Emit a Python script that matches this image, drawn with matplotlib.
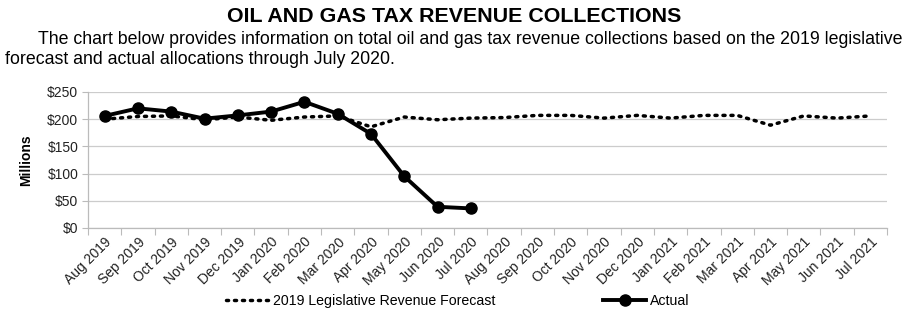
import matplotlib
matplotlib.use("Agg")
import matplotlib.pyplot as plt
import matplotlib.transforms as mtransforms

FONT = "Liberation Sans"
plt.rcParams['font.family'] = [FONT, 'DejaVu Sans']

months = ["Aug 2019", "Sep 2019", "Oct 2019", "Nov 2019", "Dec 2019", "Jan 2020",
          "Feb 2020", "Mar 2020", "Apr 2020", "May 2020", "Jun 2020", "Jul 2020",
          "Aug 2020", "Sep 2020", "Oct 2020", "Nov 2020", "Dec 2020", "Jan 2021",
          "Feb 2021", "Mar 2021", "Apr 2021", "May 2021", "Jun 2021", "Jul 2021"]
forecast = [200, 205, 206, 199, 204, 198, 204, 206, 186, 204, 199, 202,
            203, 207, 207, 202, 207, 202, 207, 207, 189, 206, 202, 206]
actual = [206, 220, 214, 201, 207, 214, 232, 210, 173, 95, 39, 36]
yticks = [0, 50, 100, 150, 200, 250]

fig = plt.figure(figsize=(9.08, 3.12), dpi=100)
ax = fig.add_axes([88/908, 1 - 228/312, (887-88)/908, (228-92)/312])

x_f = list(range(len(forecast)))
x_a = list(range(len(actual)))
ax.plot(x_f, forecast, linestyle=(0, (0.6, 1.7)), dash_capstyle='round',
        color='black', linewidth=2.5, label='2019 Legislative Revenue Forecast', zorder=3)
ax.plot(x_a, actual, color='black', linewidth=2.8, marker='o', markersize=8,
        label='Actual', zorder=4)

ax.set_xlim(-0.5, len(months) - 0.5)
ax.set_ylim(0, 250)
ax.set_yticks(yticks)
ax.set_yticklabels([f"${v}" for v in yticks], fontsize=10, color='#222222')
ax.set_xticks(x_f)
ax.set_xticklabels(months, rotation=45, ha='right', rotation_mode='anchor', fontsize=10,
                   color='#222222')
offset = mtransforms.ScaledTranslation(-4/100, -2/100, fig.dpi_scale_trans)
for lbl in ax.get_xticklabels():
    lbl.set_transform(lbl.get_transform() + offset)
ax.set_xticks([i - 0.5 for i in range(len(months) + 1)], minor=True)
ax.tick_params(axis='x', which='major', length=0, pad=5)
ax.tick_params(axis='x', which='minor', length=5, color='#bbbbbb', width=0.8)
ax.tick_params(axis='y', length=4, color='#bbbbbb', width=0.8, pad=3)
ax.grid(axis='y', color='#cccccc', linewidth=0.9)
ax.set_axisbelow(True)
for s in ['top', 'right']:
    ax.spines[s].set_visible(False)
for s in ['left', 'bottom']:
    ax.spines[s].set_color('#bbbbbb')
    ax.spines[s].set_linewidth(0.9)

ax.set_ylabel("Millions", fontsize=10, fontweight='bold', labelpad=10)

fig.text(0.5, 1 - 17/312, "OIL AND GAS TAX REVENUE COLLECTIONS", ha='center', va='center',
         fontsize=15.4, fontweight='bold')
fig.text(38/908, 1 - 40/312,
         "The chart below provides information on total oil and gas tax revenue collections based on the 2019 legislative",
         ha='left', va='center', fontsize=12.8)
fig.text(5/908, 1 - 60/312, "forecast and actual allocations through July 2020.",
         ha='left', va='center', fontsize=12.8)

leg = fig.legend(loc='center', bbox_to_anchor=(458/908, 1 - 301/312), ncol=2, frameon=False,
                 fontsize=10.2, columnspacing=7.6, handlelength=3.0, handletextpad=0.3)

fig.savefig("out.png", dpi=100)
